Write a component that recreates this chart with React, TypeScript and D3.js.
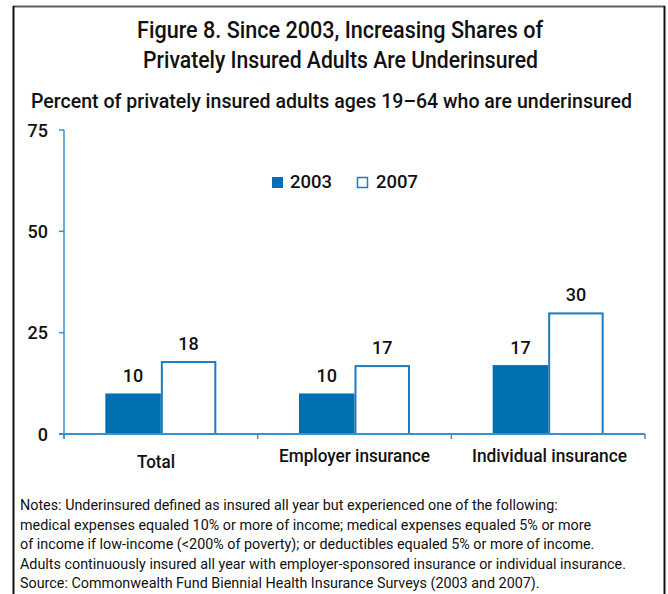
import React, { useMemo } from "react";
import * as d3 from "d3";

const categories = ["Total", "Employer insurance", "Individual insurance"];
const seriesNames = ["2003", "2007"];
const values2003 = [10, 10, 17];
const values2007 = [18, 17, 30];
const yTicks = [0, 25, 50, 75];
const titleLines = [
  "Figure 8. Since 2003, Increasing Shares of",
  "Privately Insured Adults Are Underinsured",
];
const subtitle = "Percent of privately insured adults ages 19\u201364 who are underinsured";
const notes = [
  "Notes: Underinsured defined as insured all year but experienced one of the following:",
  "medical expenses equaled 10% or more of income; medical expenses equaled 5% or more",
  "of income if low-income (<200% of poverty); or deductibles equaled 5% or more of income.",
  "Adults continuously insured all year with employer-sponsored insurance or individual insurance.",
  "Source: Commonwealth Fund Biennial Health Insurance Surveys (2003 and 2007).",
];

const FONT = "Roboto, 'Liberation Sans', sans-serif";
const BLUE = "#0070b0";
const AXIS = "#3d8fc6";

function measure(text: string, font: string): number {
  const c = document.createElement("canvas").getContext("2d");
  if (!c) return text.length * 7;
  c.font = font;
  return c.measureText(text).width;
}

export default function App() {
  const W = 668, H = 594;
  const y = d3.scaleLinear().domain([0, 75]).range([434, 130]);
  const x0 = d3.scaleBand<string>().domain(categories).range([64, 645]).padding(0);
  const bw = x0.bandwidth();
  const groupW = 111;
  const x1 = d3.scaleBand<string>().domain(seriesNames).range([(bw - groupW) / 2, (bw + groupW) / 2]).padding(0);
  const data = [values2003, values2007];

  const noteLens = useMemo(() => {
    const f = `13px ${FONT}`;
    const ws = notes.map((n) => measure(n, f));
    const k = 606 / ws[3];
    return ws.map((w) => w * k);
  }, []);

  const labelX = [156, 354.5, 549.5];
  const labelY = [468, 462, 462];
  const labelW = [38, 151, 155];

  return (
    <svg width={W} height={H} style={{ display: "block", position: "absolute", left: 0, top: 0 }} fontFamily={FONT}>
      <rect x={0} y={0} width={W} height={H} fill="#fff" />
      {/* frame */}
      <line x1={13} x2={665} y1={6.5} y2={6.5} stroke="#606060" strokeWidth={2} />
      <line x1={13.5} x2={13.5} y1={6} y2={H} stroke="#111" strokeWidth={2} />
      <line x1={664.5} x2={664.5} y1={6} y2={H} stroke="#111" strokeWidth={2} />

      {/* titles */}
      <text x={340} y={38} textAnchor="middle" fontSize={24} fontWeight={500} fill="#111" textLength={406} lengthAdjust="spacingAndGlyphs">{titleLines[0]}</text>
      <text x={340.5} y={68} textAnchor="middle" fontSize={24} fontWeight={500} fill="#111" textLength={395} lengthAdjust="spacingAndGlyphs">{titleLines[1]}</text>
      <text x={331.5} y={108} textAnchor="middle" fontSize={20} fontWeight={500} fill="#111" textLength={601} lengthAdjust="spacingAndGlyphs">{subtitle}</text>

      {/* y axis */}
      <line x1={64} x2={64} y1={y(75)} y2={y(0) + 5} stroke={AXIS} strokeWidth={1.5} />
      {yTicks.map((t) => (
        <g key={t}>
          <line x1={59} x2={64} y1={y(t)} y2={y(t)} stroke={AXIS} strokeWidth={1.5} />
          <text x={48} y={y(t) + 6.5} textAnchor="end" fontSize={18} fontWeight={500} fill="#111">{t}</text>
        </g>
      ))}

      {/* bars */}
      {categories.map((c, i) => (
        <g key={c} transform={`translate(${x0(c)},0)`}>
          {seriesNames.map((s, j) => {
            const v = data[j][i];
            const bx = x1(s) as number;
            const bwid = x1.bandwidth();
            return (
              <g key={s}>
                {j === 0 ? (
                  <rect x={bx} y={y(v)} width={bwid} height={y(0) - y(v)} fill={BLUE} />
                ) : (
                  <rect x={bx + 1} y={y(v) + 1} width={bwid - 2} height={y(0) - y(v) - 1} fill="#fff" stroke="#1c7cc0" strokeWidth={2} />
                )}
                <text x={bx + bwid / 2} y={y(v) - 11} textAnchor="middle" fontSize={18} fontWeight={500} fill="#111">{v}</text>
              </g>
            );
          })}
        </g>
      ))}

      {/* x axis */}
      <line x1={59} x2={645} y1={y(0)} y2={y(0)} stroke={AXIS} strokeWidth={2} />
      {[64, ...categories.map((c) => (x0(c) as number) + bw)].map((tx, i) => (
        <line key={i} x1={tx} x2={tx} y1={y(0)} y2={y(0) + 5} stroke={AXIS} strokeWidth={1.5} />
      ))}
      {categories.map((c, i) => (
        <text key={c} x={labelX[i]} y={labelY[i]} textAnchor="middle" fontSize={18} fontWeight={500} fill="#111" textLength={labelW[i]} lengthAdjust="spacingAndGlyphs">{c}</text>
      ))}

      {/* legend */}
      <rect x={272} y={177} width={11} height={11} fill={BLUE} />
      <text x={290} y={188} fontSize={19} fontWeight={500} fill="#111" textLength={42} lengthAdjust="spacingAndGlyphs">{seriesNames[0]}</text>
      <rect x={357.5} y={177.5} width={10} height={10} fill="#fff" stroke="#1c7cc0" strokeWidth={1.5} />
      <text x={376} y={188} fontSize={19} fontWeight={500} fill="#111" textLength={42} lengthAdjust="spacingAndGlyphs">{seriesNames[1]}</text>

      {/* notes */}
      {notes.map((n, i) => (
        <text key={i} x={20} y={510 + i * 19.5} fontSize={14} fill="#111" textLength={noteLens[i]} lengthAdjust="spacingAndGlyphs">{n}</text>
      ))}
    </svg>
  );
}
